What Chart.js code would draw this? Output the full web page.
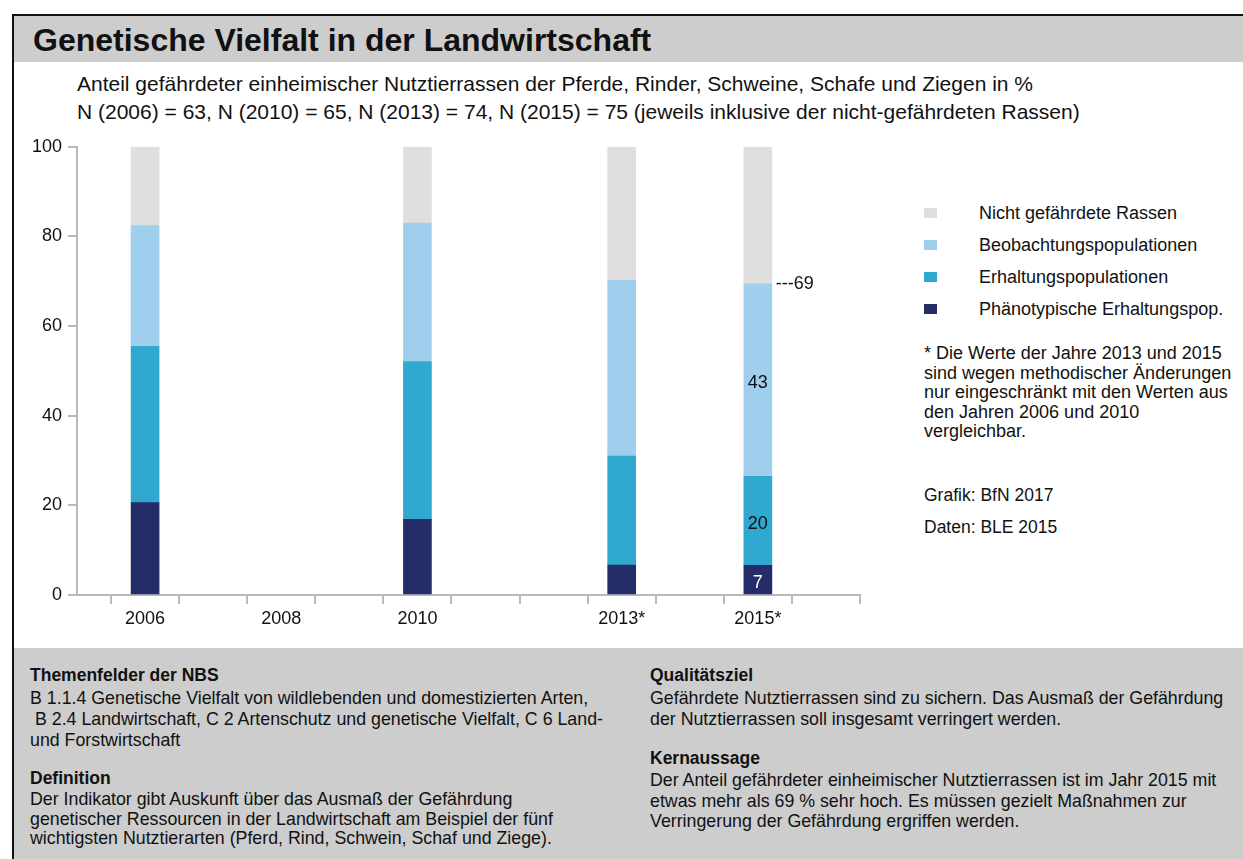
<!DOCTYPE html>
<html lang="de">
<head>
<meta charset="utf-8">
<title>Genetische Vielfalt in der Landwirtschaft</title>
<script src="https://cdn.jsdelivr.net/npm/chart.js@4/dist/chart.umd.min.js"></script>
<style>
  body { margin: 0; width: 1243px; height: 859px; background: #fff; position: relative; overflow: hidden;
         font-family: "Liberation Sans", Arial, sans-serif; color: #111; }
  .abs { position: absolute; white-space: nowrap; }
  #frame { position: absolute; left: 12px; top: 14px; width: 1240px; height: 860px;
           border-top: 2px solid #111; border-left: 2px solid #111; }
  #head { position: absolute; left: 14px; top: 16px; right: 0; height: 46px; background: #cccdcc; }
  #title { left: 33px; top: 20px; font-size: 32px; font-weight: bold; line-height: 40px; }
  #sub { left: 77px; top: 70px; font-size: 21px; line-height: 28px; }
  #chartBox { position: absolute; left: 0; top: 130px; width: 880px; height: 500px; }
  #legend { left: 924px; top: 197px; font-size: 18px; }
  #legend div { height: 32px; line-height: 32px; position: relative; }
  #legend span.sw { position: absolute; left: 0; top: 11px; width: 13px; height: 10px; }
  #legend span.tx { position: absolute; left: 55px; }
  #note { left: 924px; top: 344px; font-size: 18px; line-height: 19.5px; }
  #src { left: 924px; top: 480px; font-size: 17.5px; line-height: 31.5px; }
  #foot { position: absolute; left: 14px; top: 648px; right: 0; bottom: 0; background: #cccdcc; }
  .h { font-weight: bold; font-size: 17.5px; }
  .t { font-size: 17.8px; }
</style>
</head>
<body>
<div id="frame"></div>
<div id="head"></div>
<div class="abs" id="title">Genetische Vielfalt in der Landwirtschaft</div>
<div class="abs" id="sub">Anteil gefährdeter einheimischer Nutztierrassen der Pferde, Rinder, Schweine, Schafe und Ziegen in %<br>N (2006) = 63, N (2010) = 65, N (2013) = 74, N (2015) = 75 (jeweils inklusive der nicht-gefährdeten Rassen)</div>
<div id="chartBox"><canvas id="c"></canvas></div>
<div class="abs" id="legend"></div>
<div class="abs" id="note">* Die Werte der Jahre 2013 und 2015<br>sind wegen methodischer Änderungen<br>nur eingeschränkt mit den Werten aus<br>den Jahren 2006 und 2010<br>vergleichbar.</div>
<div class="abs" id="src">Grafik: BfN 2017<br>Daten: BLE 2015</div>
<div id="foot"></div>
<div class="abs h" style="left:30px; top:665px; line-height:20px;">Themenfelder der NBS</div>
<div class="abs t" style="left:30px; top:688px; line-height:21px;">B 1.1.4 Genetische Vielfalt von wildlebenden und domestizierten Arten,<br>&nbsp;B 2.4 Landwirtschaft, C 2 Artenschutz und genetische Vielfalt, C 6 Land-<br>und Forstwirtschaft</div>
<div class="abs h" style="left:30px; top:768px; line-height:20px;">Definition</div>
<div class="abs t" style="left:30px; top:790px; line-height:19.5px;">Der Indikator gibt Auskunft über das Ausmaß der Gefährdung<br>genetischer Ressourcen in der Landwirtschaft am Beispiel der fünf<br>wichtigsten Nutztierarten (Pferd, Rind, Schwein, Schaf und Ziege).</div>
<div class="abs h" style="left:650px; top:665px; line-height:20px;">Qualitätsziel</div>
<div class="abs t" style="left:650px; top:688px; line-height:21px;">Gefährdete Nutztierrassen sind zu sichern. Das Ausmaß der Gefährdung<br>der Nutztierrassen soll insgesamt verringert werden.</div>
<div class="abs h" style="left:650px; top:748px; line-height:20px;">Kernaussage</div>
<div class="abs t" style="left:650px; top:770px; line-height:20.5px;">Der Anteil gefährdeter einheimischer Nutztierrassen ist im Jahr 2015 mit<br>etwas mehr als 69 % sehr hoch. Es müssen gezielt Maßnahmen zur<br>Verringerung der Gefährdung ergriffen werden.</div>

<script>
// Daten (Anteile in %, von unten nach oben gestapelt)
const years = [2006, 2010, 2013, 2015];
const phaenotypisch = [20.6, 16.9, 6.7, 6.6];
const erhaltung = [34.9, 35.2, 24.3, 19.9];
const beobachtung = [26.9, 30.9, 39.2, 42.9];
const nichtGefaehrdet = [17.6, 17.0, 29.8, 30.6];

const seriesNames = ['Phänotypische Erhaltungspop.', 'Erhaltungspopulationen', 'Beobachtungspopulationen', 'Nicht gefährdete Rassen'];
const seriesColors = ['#252d69', '#31a8cf', '#9fcfec', '#dfdfdf'];

const tickYears = [2006, 2008, 2010, 2013, 2015];
const tickLabels = ['2006', '2008', '2010', '2013*', '2015*'];
const labelledYear = 2015;

const axisGrey = '#b9b9b9';

const series = [phaenotypisch, erhaltung, beobachtung, nichtGefaehrdet];
const datasets = series.map((vals, i) => ({
  label: seriesNames[i],
  data: years.map((y, k) => ({ x: y, y: vals[k] })),
  backgroundColor: seriesColors[i],
  borderWidth: 0,
  barThickness: 28
}));

// Legende (oben beginnend mit der obersten Kategorie)
const legend = document.getElementById('legend');
for (let i = seriesNames.length - 1; i >= 0; i--) {
  const row = document.createElement('div');
  row.innerHTML = '<span class="sw" style="background:' + seriesColors[i] + '"></span><span class="tx">' + seriesNames[i] + '</span>';
  legend.appendChild(row);
}

// Werte-Beschriftung für 2015
const valueLabels = {
  id: 'valueLabels',
  afterDatasetsDraw(chart) {
    const ctx = chart.ctx;
    const k = years.indexOf(labelledYear);
    ctx.save();
    ctx.font = '18px "Liberation Sans", Arial, sans-serif';
    ctx.textAlign = 'center';
    ctx.textBaseline = 'middle';
    let total = 0;
    for (let i = 0; i < 3; i++) {
      const el = chart.getDatasetMeta(i).data[k];
      total += series[i][k];
      ctx.fillStyle = i === 0 ? '#fff' : '#111';
      ctx.fillText(Math.round(series[i][k]), el.x, (el.y + el.base) / 2 + 3);
    }
    const top = chart.getDatasetMeta(2).data[k];
    ctx.textAlign = 'left';
    ctx.fillStyle = '#111';
    ctx.fillText('---' + Math.round(total), top.x + top.width / 2 + 4, top.y);
    ctx.restore();
  }
};

Chart.defaults.font.family = '"Liberation Sans", Arial, sans-serif';
Chart.defaults.color = '#111';

new Chart(document.getElementById('c'), {
  type: 'bar',
  data: { datasets },
  plugins: [valueLabels],
  options: {
    responsive: true,
    maintainAspectRatio: false,
    animation: false,
    layout: { padding: { top: 16, right: 20, left: 0, bottom: 0 } },
    plugins: { legend: { display: false }, tooltip: { enabled: false } },
    scales: {
      x: {
        type: 'linear',
        stacked: true,
        offset: false,
        min: 2005,
        max: 2016.5,
        afterFit(scale) { scale.height = 35; },
        grid: {
          offset: false,
          drawOnChartArea: false,
          tickLength: 9,
          lineWidth: 2,
          tickColor: (c) => (c.tick && c.tick.value % 1 !== 0) ? axisGrey : 'rgba(0,0,0,0)'
        },
        border: { color: axisGrey, width: 2 },
        ticks: {
          stepSize: 0.5,
          autoSkip: false,
          maxRotation: 0,
          padding: 4,
          font: { size: 18 },
          callback: (v) => {
            const j = tickYears.indexOf(v);
            return j >= 0 ? tickLabels[j] : '';
          }
        }
      },
      y: {
        stacked: true,
        min: 0,
        max: 100,
        afterFit(scale) { scale.width = 77; },
        grid: { drawOnChartArea: false, tickLength: 9, lineWidth: 2, tickColor: axisGrey },
        border: { color: axisGrey, width: 2 },
        ticks: { stepSize: 20, padding: 6, font: { size: 18 } }
      }
    }
  }
});
</script>
</body>
</html>
